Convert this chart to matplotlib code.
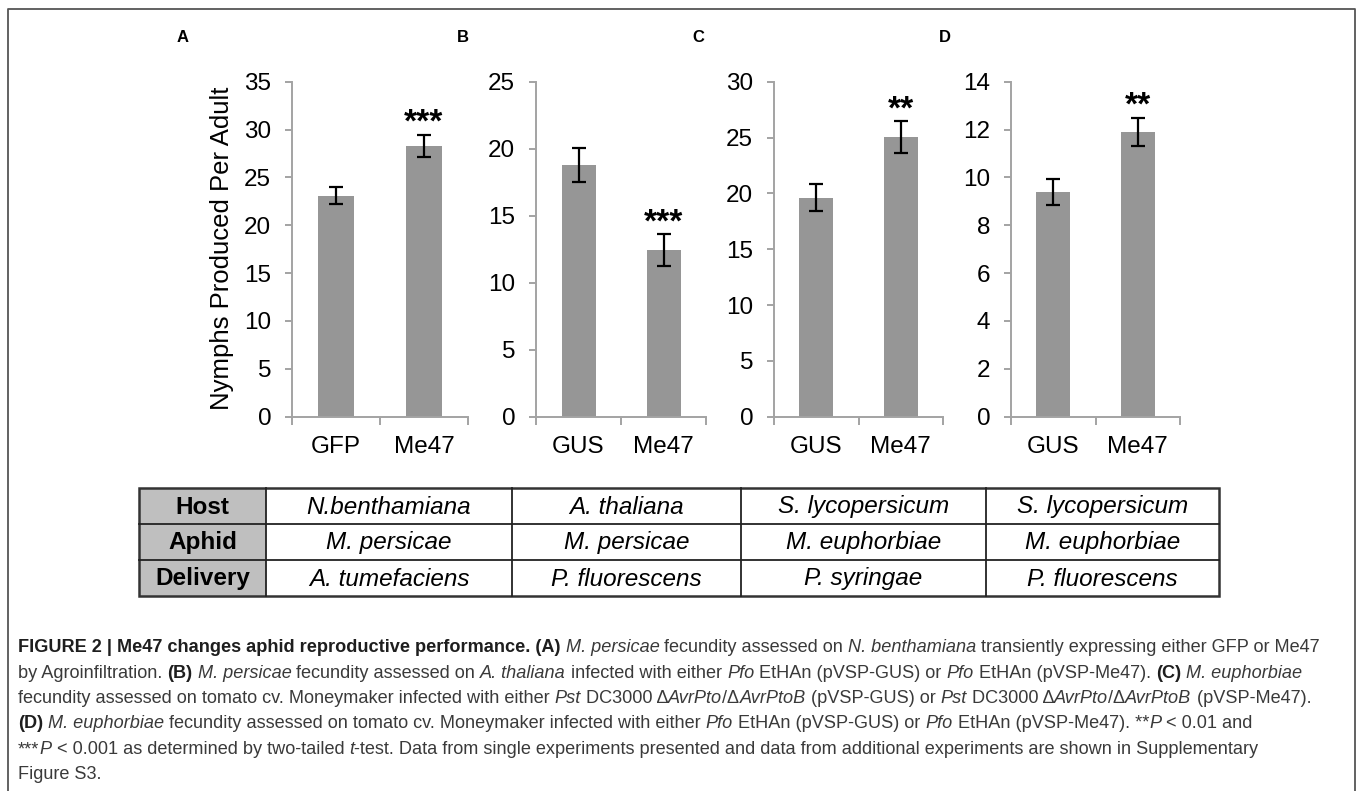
"""
 - Me47 aphid fecundity bar panels + summary table + caption
"""

import matplotlib
matplotlib.use('Agg')
import matplotlib.pyplot as plt
from matplotlib.patches import Rectangle

plt.rcParams['font.family'] = ['Liberation Sans', 'DejaVu Sans']

W, H = 1357, 791

# 1. data
panel_labels = ['A', 'B', 'C', 'D']
categories = [['GFP', 'Me47'], ['GUS', 'Me47'], ['GUS', 'Me47'], ['GUS', 'Me47']]
means = [[23.1, 28.3], [18.8, 12.45], [19.6, 25.05], [9.4, 11.9]]
errors = [[0.9, 1.15], [1.25, 1.18], [1.2, 1.4], [0.54, 0.59]]
signif = [['', '***'], ['', '***'], ['', '**'], ['', '**']]
ymax = [35, 25, 30, 14]
ystep = [5, 5, 5, 2]
ylabel = 'Nymphs Produced Per Adult'

row_heads = ['Host', 'Aphid', 'Delivery']
hosts = ['N.benthamiana', 'A. thaliana', 'S. lycopersicum', 'S. lycopersicum']
aphids = ['M. persicae', 'M. persicae', 'M. euphorbiae', 'M. euphorbiae']
deliveries = ['A. tumefaciens', 'P. fluorescens', 'P. syringae', 'P. fluorescens']

# caption runs: (text, style)  b=bold, i=italic, n=normal
caption = [
    [('FIGURE 2 | Me47 changes aphid reproductive performance. (A)', 'b'), (' ', 'n'),
     ('M. persicae', 'i'), (' fecundity assessed on ', 'n'), ('N. benthamiana', 'i'),
     (' transiently expressing either GFP or Me47', 'n')],
    [('by Agroinfiltration. ', 'n'), ('(B)', 'b'), (' ', 'n'), ('M. persicae', 'i'),
     (' fecundity assessed on ', 'n'), ('A. thaliana', 'i'), (' infected with either ', 'n'),
     ('Pfo', 'i'), (' EtHAn (pVSP-GUS) or ', 'n'), ('Pfo', 'i'), (' EtHAn (pVSP-Me47). ', 'n'),
     ('(C)', 'b'), (' ', 'n'), ('M. euphorbiae', 'i')],
    [('fecundity assessed on tomato cv. Moneymaker infected with either ', 'n'), ('Pst', 'i'),
     (' DC3000 \u0394', 'n'), ('AvrPto', 'i'), ('/\u0394', 'n'), ('AvrPtoB', 'i'),
     (' (pVSP-GUS) or ', 'n'), ('Pst', 'i'), (' DC3000 \u0394', 'n'), ('AvrPto', 'i'),
     ('/\u0394', 'n'), ('AvrPtoB', 'i'), (' (pVSP-Me47).', 'n')],
    [('(D)', 'b'), (' ', 'n'), ('M. euphorbiae', 'i'),
     (' fecundity assessed on tomato cv. Moneymaker infected with either ', 'n'), ('Pfo', 'i'),
     (' EtHAn (pVSP-GUS) or ', 'n'), ('Pfo', 'i'), (' EtHAn (pVSP-Me47). **', 'n'), ('P', 'i'),
     (' < 0.01 and', 'n')],
    [('***', 'n'), ('P', 'i'), (' < 0.001 as determined by two-tailed ', 'n'), ('t', 'i'),
     ('-test. Data from single experiments presented and data from additional experiments are shown in Supplementary', 'n')],
    [('Figure S3.', 'n')],
]

# 2. layout (pixels)
axes_x = [(292, 468), (536, 706), (774, 943), (1011, 1180)]
axes_y = (81.7, 416.7)
letter_x = [183, 463, 698, 945]
col_edges = [139, 266, 512, 741, 986, 1219]
row_edges = [488, 524, 560, 596]

bar_color = '#969696'
axis_color = '#a3a3a3'

fig = plt.figure(figsize=(W / 100, H / 100), dpi=100)

# overlay in pixel coordinates
ov = fig.add_axes([0, 0, 1, 1])
ov.set_xlim(0, W)
ov.set_ylim(H, 0)
ov.axis('off')

# outer frame (bottom edge falls outside the picture)
ov.plot([8, 8, 1355, 1355], [H + 5, 9, 9, H + 5], color='#555555', lw=1.3)

for i in range(4):
    x0, x1 = axes_x[i]
    y0, y1 = axes_y
    ax = fig.add_axes([x0 / W, 1 - y1 / H, (x1 - x0) / W, (y1 - y0) / H])
    xs = [1, 2]
    ax.bar(xs, means[i], width=0.4, color=bar_color, zorder=2)
    ax.errorbar(xs, means[i], yerr=errors[i], fmt='none', ecolor='black',
                elinewidth=1.6, capsize=5, capthick=1.6, zorder=3)
    for x, m, e, s in zip(xs, means[i], errors[i], signif[i]):
        if s:
            ax.annotate(s, xy=(x, m + e), xytext=(0, 2), textcoords='offset points',
                        ha='center', va='baseline', fontsize=24, fontweight='bold')
    ax.set_xlim(0.5, 2.5)
    ax.set_ylim(0, ymax[i])
    ax.set_yticks(range(0, ymax[i] + 1, ystep[i]))
    ax.set_xticks([0.5, 1.5, 2.5])
    ax.set_xticklabels([])
    ax.set_xticks(xs, minor=True)
    ax.set_xticklabels(categories[i], minor=True)
    ax.tick_params(axis='x', which='major', direction='out', length=6, width=1.4, color=axis_color)
    ax.tick_params(axis='x', which='minor', length=0, pad=14, labelsize=17.5)
    ax.tick_params(axis='y', direction='out', length=5, width=1.4, color=axis_color,
                   pad=10, labelsize=17.5)
    for sp in ['top', 'right']:
        ax.spines[sp].set_visible(False)
    for sp in ['left', 'bottom']:
        ax.spines[sp].set_color(axis_color)
        ax.spines[sp].set_linewidth(1.4)
    ax.patch.set_alpha(0)
    ov.text(letter_x[i], 37, panel_labels[i], fontsize=12, fontweight='bold',
            ha='center', va='center')

ov.text(222, 248, ylabel, rotation=90, ha='center', va='center', fontsize=18.5)

# 3. table
ov.add_patch(Rectangle((col_edges[0], row_edges[0]), col_edges[1] - col_edges[0],
                       row_edges[-1] - row_edges[0], facecolor='#bfbfbf', edgecolor='none'))
for y in row_edges[1:-1]:
    ov.plot([col_edges[0], col_edges[-1]], [y, y], color='#222222', lw=1.3)
for x in col_edges[1:-1]:
    ov.plot([x, x], [row_edges[0], row_edges[-1]], color='#222222', lw=1.3)
ov.add_patch(Rectangle((col_edges[0], row_edges[0]), col_edges[-1] - col_edges[0],
                       row_edges[-1] - row_edges[0], facecolor='none',
                       edgecolor='#333333', lw=1.8))
rows = [hosts, aphids, deliveries]
for r in range(3):
    yc = (row_edges[r] + row_edges[r + 1]) / 2 + 1
    ov.text((col_edges[0] + col_edges[1]) / 2, yc, row_heads[r], fontsize=17.5,
            fontweight='bold', ha='center', va='center')
    for c in range(4):
        ov.text((col_edges[c + 1] + col_edges[c + 2]) / 2, yc, rows[r][c], fontsize=17.5,
                fontstyle='italic', ha='center', va='center')

# 4. caption
renderer = fig.canvas.get_renderer()
cap_size = 13.1
baselines = [652, 677.5, 703, 728.5, 754, 779]
for line, yb in zip(caption, baselines):
    x = 18
    for txt, st in line:
        kw = dict(fontsize=cap_size, ha='left', va='baseline', color='#3a3a3a')
        if st == 'b':
            kw.update(fontweight='bold', color='#1e1e1e')
        elif st == 'i':
            kw.update(fontstyle='italic')
        t = ov.text(x, yb, txt, **kw)
        x += t.get_window_extent(renderer=renderer).width

fig.savefig('out.png', dpi=100)
